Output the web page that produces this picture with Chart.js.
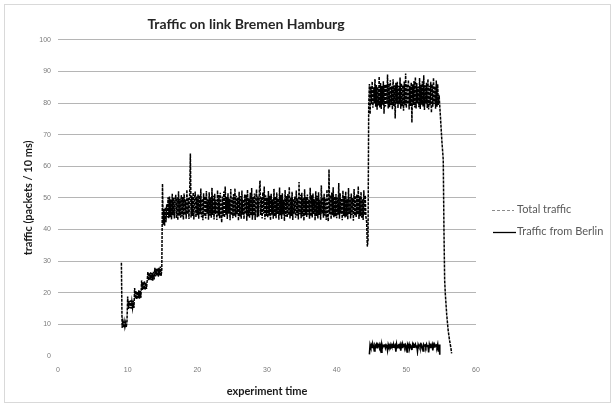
<!DOCTYPE html>
<html>
<head>
<meta charset="utf-8">
<script src="https://cdn.jsdelivr.net/npm/chart.js@4.4.1/dist/chart.umd.min.js"></script>
<style>
  html, body { margin: 0; padding: 0; background: #ffffff; }
  #wrap { position: relative; width: 616px; height: 408px; }
  #frame { position: absolute; left: 4px; top: 4px; width: 607px; height: 399px; border: 1px solid #d9d9d9; box-sizing: border-box; pointer-events: none; }
  #chart { position: absolute; left: 0; top: 0; }
  .lg { position: absolute; font: 11px Lato, sans-serif; color: #595959; white-space: nowrap; }
  .lg svg { position: absolute; left: 0; top: 0; }
  .lg span { position: absolute; top: -1px; }
</style>
</head>
<body>
<div id="wrap">
  <canvas id="chart" width="616" height="408"></canvas>
  <div id="frame"></div>
  <div class="lg" style="left:490px; top:203px;">
    <svg width="26" height="14"><line x1="2" y1="7.5" x2="24" y2="7.5" stroke="#8c8c8c" stroke-width="1" stroke-dasharray="3,2"/></svg>
    <span style="left:27px;">Total traffic</span>
  </div>
  <div class="lg" style="left:490px; top:225px;">
    <svg width="28" height="14"><line x1="3" y1="7.5" x2="26" y2="7.5" stroke="#000000" stroke-width="1.3"/></svg>
    <span style="left:27px;">Traffic from Berlin</span>
  </div>
</div>
<script>
// ---- Data ----
const chartTitle = 'Traffic on link Bremen Hamburg';
const xTitle = 'experiment time';
const yTitle = 'traffic (packets / 10 ms)';
const seriesNames = ['Total traffic', 'Traffic from Berlin'];
const xTicks = [0, 10, 20, 30, 40, 50, 60];
const yTicks = [0, 10, 20, 30, 40, 50, 60, 70, 80, 90, 100];

// Total traffic, ramp phase: samples every 0.1 time units from t = 9.1
const rampStart = 9.1;
const rampTraffic = [
  29.5,
  8.9, 10.6, 9.0, 10.8, 9.2, 10.5, 9.1, 10.9,
  18.8, 14.9, 17.4, 15.1, 17.6, 15.0, 17.2, 15.3, 17.5, 15.2,
  21.5, 18.1, 20.6, 18.0, 20.4, 18.3, 20.8, 18.1, 20.5, 18.4,
  23.9, 20.9, 23.4, 21.1, 23.7, 21.0, 23.3, 21.2, 23.8,
  26.6, 23.9, 26.3, 24.1, 26.5, 24.0, 26.2, 23.8, 26.6, 24.2,
  27.9, 25.2, 27.6, 25.4, 27.8, 25.1, 27.9, 25.5, 28.3, 25.3, 27.4
];

// Total traffic, middle phase: samples every 0.1 from t = 15.0
const midStart = 15.0;
const midTraffic = [
  54.5, 41.5, 46.5, 41.2, 47.0, 42.3, 48.0, 43.8, 50.2, 43.6,
  50.4, 43.9, 49.6, 43.2, 51.3, 44.5, 50.1, 43.5, 49.2, 51.0,
  43.6, 50.2, 43.0, 52.1, 44.4, 49.8, 43.7, 50.9, 44.1, 50.3,
  43.1, 51.4, 44.6, 49.5, 43.4, 52.6, 44.9, 50.0, 43.3, 51.2,
  64.0, 43.8, 50.6, 44.3, 51.7, 43.2, 49.9, 52.0, 43.9, 50.4,
  44.5, 51.1, 43.4, 50.8, 44.8, 53.0, 43.9, 49.7, 42.9, 51.5,
  44.2, 50.5, 43.5, 52.2, 45.0, 49.6, 43.1, 51.8, 44.4, 50.2,
  43.7, 53.2, 44.6, 50.7, 43.2, 51.3, 44.9, 49.4, 43.0, 52.4,
  44.4, 50.9, 43.6, 51.6, 45.1, 42.2, 50.4, 44.2, 52.0, 43.8,
  53.6, 44.7, 50.3, 43.3, 51.5, 45.0, 49.8, 42.9, 52.8, 44.5,
  50.1, 43.6, 51.2, 44.3, 53.0, 43.9, 50.7, 44.8, 50.0, 42.8,
  51.9, 44.1, 50.6, 43.4, 52.3, 44.7, 49.5, 43.3, 51.1, 44.9,
  51.0, 42.8, 52.6, 44.2, 49.9, 43.7, 51.6, 44.5, 53.1, 43.1,
  50.3, 44.4, 51.4, 43.0, 49.7, 52.7, 43.9, 50.5, 44.1, 52.0,
  55.5, 44.6, 50.2, 43.5, 51.8, 45.0, 53.6, 43.2, 50.8, 44.3,
  50.0, 43.8, 52.2, 44.4, 50.7, 42.9, 51.3, 44.7, 49.6, 43.4,
  52.9, 44.2, 50.4, 43.6, 51.7, 44.9, 49.8, 43.1, 53.3, 44.5,
  50.9, 43.3, 51.5, 44.8, 49.4, 42.7, 52.5, 44.1, 50.6, 43.9,
  51.2, 44.6, 53.5, 43.5, 50.1, 44.3, 51.9, 43.0, 49.7, 45.0,
  50.5, 43.7, 52.3, 44.4, 49.9, 43.2, 55.0, 44.8, 51.0, 43.6,
  51.6, 44.1, 50.0, 42.8, 52.7, 44.5, 50.3, 44.0, 51.1, 44.7,
  49.5, 43.4, 53.2, 44.2, 50.8, 43.8, 51.4, 44.9, 49.6, 42.9,
  52.1, 44.3, 50.7, 43.5, 51.8, 44.6, 49.4, 43.1, 54.0, 45.0,
  50.2, 43.7, 51.3, 44.4, 49.9, 43.0, 52.6, 44.1, 42.6, 59.0,
  44.8, 50.9, 43.3, 51.7, 44.5, 53.4, 43.9, 50.4, 44.2, 51.2,
  43.6, 50.1, 44.7, 54.7, 43.4, 51.5, 45.0, 49.8, 42.9, 52.3,
  44.3, 50.6, 43.8, 52.0, 44.1, 49.7, 43.2, 53.1, 44.9, 50.3,
  43.5, 51.4, 44.6, 50.0, 42.8, 52.8, 44.4, 50.7, 44.0, 51.1,
  44.8, 53.7, 43.3, 50.5, 44.2, 51.9, 43.7, 49.6, 43.0, 52.4,
  44.5, 50.8, 43.9, 42.5, 34.6
];

// Total traffic, high phase: samples every 0.1 from t = 44.5
const highStart = 44.5;
const highTraffic = [
  36.5, 79.5, 86.0, 76.5, 85.2,
  79.6, 86.8, 78.5, 85.0, 79.9, 87.6, 78.8, 85.7, 77.9, 85.1,
  79.2, 88.4, 78.6, 86.3, 78.1, 85.4, 79.5, 86.9, 76.6, 85.8,
  78.9, 85.9, 79.7, 89.0, 78.3, 86.1, 78.7, 87.2, 79.4, 85.3,
  78.0, 87.5, 79.1, 85.6, 75.1, 86.4, 79.8, 86.7, 78.4, 85.5,
  79.6, 88.1, 78.2, 86.2, 79.0, 85.7, 77.6, 86.8, 79.3, 89.3,
  78.5, 86.0, 79.7, 87.3, 78.0, 85.4, 79.1, 86.5, 73.8, 85.9,
  79.4, 87.0, 78.6, 88.2, 78.3, 86.3, 79.9, 85.2, 78.7, 87.9,
  78.1, 85.8, 79.5, 86.9, 78.9, 88.8, 77.8, 85.6, 79.8, 86.4,
  78.4, 87.6, 78.0, 85.5, 79.3, 86.7, 76.9, 85.9, 78.8, 88.0,
  79.7, 85.3, 78.2, 87.1, 78.8, 86.0, 79.4, 82.6
];

// Total traffic, final drop
const tailTime = [54.8, 54.9, 55.0, 55.1, 55.2, 55.3, 55.4, 55.5, 55.6, 55.8, 56.0, 56.2, 56.4, 56.5];
const tailTraffic = [79.0, 75.5, 71.8, 68.0, 65.1, 62.0, 40.0, 24.0, 19.5, 13.0, 8.2, 5.0, 2.5, 0.8];

// Traffic from Berlin: samples every 0.1 from t = 44.7
const berlinStart = 44.7;
const berlinTraffic = [
  0.5, 3.6, 2.8,
  3.5, 2.7, 3.7, 3.0, 1.6, 3.4, 2.9, 3.6, 2.6, 3.5,
  3.1, 3.7, 2.8, 3.4, 1.2, 3.6, 2.7, 3.3, 3.0, 3.7,
  2.6, 3.5, 3.2, 1.8, 3.6, 2.9, 3.4, 2.7, 3.7, 3.1,
  3.5, 2.8, 3.6, 3.0, 3.4, 1.4, 3.7, 2.6, 3.3, 3.5,
  2.9, 3.6, 1.7, 3.4, 2.7, 3.7, 3.1, 3.5, 2.8, 3.6,
  3.2, 1.3, 3.5, 2.9, 3.7, 2.6, 3.4, 3.0, 1.9, 3.6,
  2.8, 3.5, 3.1, 3.7, 2.7, 3.4, 1.5, 3.6, 3.0, 3.3,
  3.7, 2.6, 3.5, 2.9, 1.6, 3.6, 3.2, 3.4, 2.8, 3.7,
  3.0, 3.5, 1.1, 3.6, 2.7, 3.4, 3.1, 3.7, 1.8, 3.5,
  2.9, 3.6, 3.2, 3.4, 2.8, 3.7, 1.4, 3.6, 0.4
];
const sampleStep = 0.1;

// ---- Build point lists from the arrays ----
function sampled(start, values) {
  return values.map((v, i) => ({ x: Math.round((start + i * sampleStep) * 100) / 100, y: v }));
}
const totalPoints = []
  .concat(sampled(rampStart, rampTraffic))
  .concat(sampled(midStart, midTraffic))
  .concat(sampled(highStart, highTraffic))
  .concat(tailTime.map((t, i) => ({ x: t, y: tailTraffic[i] })));
const berlinPoints = sampled(berlinStart, berlinTraffic);

const ctx = document.getElementById('chart').getContext('2d');
new Chart(ctx, {
  type: 'scatter',
  data: {
    datasets: [
      {
        label: seriesNames[0],
        data: totalPoints,
        showLine: true,
        borderColor: '#000000',
        borderWidth: 1.5,
        borderDash: [3, 1],
        pointRadius: 0,
        tension: 0,
        order: 2
      },
      {
        label: seriesNames[1],
        data: berlinPoints,
        showLine: true,
        borderColor: '#000000',
        borderWidth: 1.6,
        pointRadius: 0,
        tension: 0,
        order: 1
      }
    ]
  },
  options: {
    responsive: false,
    animation: false,
    events: [],
    layout: { padding: { left: 16, right: 140, top: 0, bottom: 4 } },
    plugins: {
      legend: { display: false },
      tooltip: { enabled: false },
      title: {
        display: true,
        text: chartTitle,
        color: '#262626',
        font: { family: 'Lato', size: 14, weight: 'bold' },
        padding: { top: 16, bottom: 7 }
      }
    },
    scales: {
      x: {
        type: 'linear',
        min: 0, max: 60,
        afterBuildTicks: s => { s.ticks = xTicks.map(v => ({ value: v })); },
        afterFit: s => { s.height = 48; },
        grid: { display: false, drawTicks: false },
        border: { display: false },
        ticks: { padding: 10, color: '#7a7a7a', font: { family: 'Liberation Sans', size: 7 } },
        title: {
          display: true, text: xTitle, color: '#1a1a1a',
          font: { family: 'Lato', size: 11, weight: 'bold' },
          padding: { top: 6, bottom: 6 }
        }
      },
      y: {
        type: 'linear',
        min: 0, max: 100,
        afterBuildTicks: s => { s.ticks = yTicks.map(v => ({ value: v })); },
        afterFit: s => { s.width = 42; },
        grid: {
          drawTicks: false,
          color: c => (c.tick && c.tick.value === 0) ? 'rgba(0,0,0,0)' : '#b5b5b5',
          lineWidth: 1
        },
        border: { display: false },
        ticks: { padding: 7, color: '#7a7a7a', font: { family: 'Liberation Sans', size: 7 } },
        title: {
          display: true, text: yTitle, color: '#1a1a1a',
          font: { family: 'Lato', size: 11, weight: 'bold' },
          padding: { top: 6, bottom: 6 }
        }
      }
    }
  }
});
</script>
</body>
</html>
